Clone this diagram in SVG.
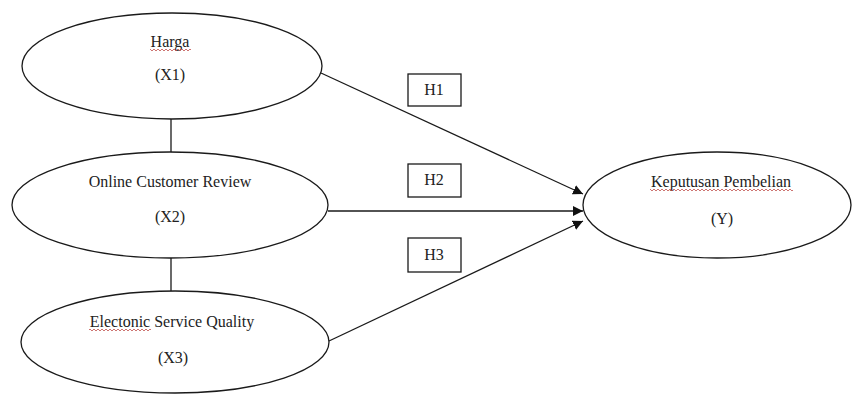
<svg xmlns="http://www.w3.org/2000/svg" width="852" height="394" viewBox="0 0 852 394">
<defs>
<marker id="arr" viewBox="0 0 10 10" refX="10" refY="5" markerWidth="10" markerHeight="10" markerUnits="userSpaceOnUse" orient="auto">
<path d="M0,0 L10,5 L0,10 Z" fill="#111"/>
</marker>
<pattern id="sq" x="0" y="0" width="4" height="4" patternUnits="userSpaceOnUse">
<path d="M0,3 L2,1 L4,3" fill="none" stroke="#c0504d" stroke-width="0.8"/>
</pattern>
</defs>
<style>
.node ellipse{fill:#fff;stroke:#1a1a1a;stroke-width:1.3}
.box rect{fill:#fff;stroke:#1a1a1a;stroke-width:1.3}
text{font-family:"Liberation Serif","Times New Roman",serif;font-size:16px;fill:#222;text-anchor:middle}
.conn line{stroke:#1a1a1a;stroke-width:1.3}
.squig{fill:url(#sq)}
</style>
<rect width="852" height="394" fill="#fff"/>
<g class="conn" id="connectors">
<line x1="171" y1="119" x2="171" y2="152"/>
<line x1="171" y1="258" x2="171" y2="291"/>
<line x1="321" y1="73" x2="583" y2="194" marker-end="url(#arr)"/>
<line x1="328" y1="211" x2="583" y2="211" marker-end="url(#arr)"/>
<line x1="329" y1="341" x2="583" y2="221" marker-end="url(#arr)"/>
</g>
<g class="node" id="x1">
<ellipse cx="172" cy="66" rx="150" ry="53"/>
<text x="170" y="47">Harga</text>
<rect class="squig" x="150" y="48" width="41" height="4"/>
<text x="170" y="80">(X1)</text>
</g>
<g class="node" id="x2">
<ellipse cx="170" cy="205" rx="158" ry="53"/>
<text x="170" y="187">Online Customer Review</text>
<text x="170" y="222">(X2)</text>
</g>
<g class="node" id="x3">
<ellipse cx="175" cy="342" rx="154" ry="51"/>
<text x="172" y="327">Electonic Service Quality</text>
<rect class="squig" x="89" y="328" width="62" height="4"/>
<text x="173" y="363">(X3)</text>
</g>
<g class="node" id="y">
<ellipse cx="717" cy="205" rx="134" ry="53"/>
<text x="721" y="187">Keputusan Pembelian</text>
<rect class="squig" x="650" y="188" width="143" height="4"/>
<text x="722" y="224">(Y)</text>
</g>
<g class="box" id="h1">
<rect x="408" y="74" width="53" height="32"/>
<text x="434" y="95">H1</text>
</g>
<g class="box" id="h2">
<rect x="408" y="164" width="53" height="33"/>
<text x="434" y="185">H2</text>
</g>
<g class="box" id="h3">
<rect x="408" y="238" width="53" height="34"/>
<text x="434" y="260">H3</text>
</g>
</svg>
